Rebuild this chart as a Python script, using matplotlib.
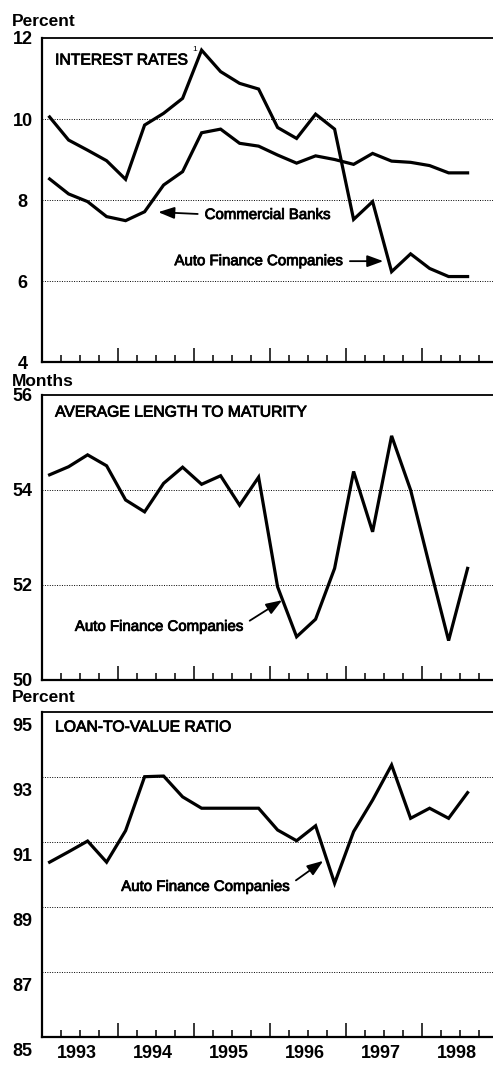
import numpy as np
import pandas as pd
import matplotlib
matplotlib.use("Agg")
from matplotlib import pyplot as plt
from matplotlib import patheffects as pe
from matplotlib.ticker import FixedLocator, NullFormatter
from matplotlib.transforms import ScaledTranslation

# quarterly observations, 1993Q1 - 1998Q3
quarters = pd.period_range("1993Q1", "1998Q3", freq="Q")

# interest rates, percent
auto_rate = [10.05, 9.48, 9.23, 8.97, 8.51, 9.85, 10.14, 10.51, 11.70, 11.17, 10.88, 10.74,
             9.79, 9.52, 10.12, 9.75, 7.52, 7.96, 6.23, 6.67, 6.31, 6.11, 6.11]
bank_rate = [8.52, 8.15, 7.96, 7.59, 7.49, 7.71, 8.37, 8.70, 9.66, 9.75, 9.40, 9.33,
             9.11, 8.91, 9.09, 9.00, 8.88, 9.15, 8.96, 8.93, 8.85, 8.67, 8.67]
# average length to maturity, months
auto_maturity = [54.32, 54.49, 54.74, 54.51, 53.79, 53.54, 54.14, 54.48, 54.12, 54.30, 53.68, 54.27,
                 51.96, 50.91, 51.28, 52.35, 54.39, 53.12, 55.14, 54.00, 52.40, 50.83, 52.35]
# loan-to-value ratio, percent
auto_ltv = [90.37, 90.69, 91.02, 90.37, 91.34, 93.00, 93.02, 92.38, 92.03, 92.03, 92.03, 92.03,
            91.36, 91.03, 91.49, 89.72, 91.31, 92.28, 93.36, 91.72, 92.03, 91.72, 92.51]

years = [1993, 1994, 1995, 1996, 1997, 1998]

x = np.array([q.year + (q.quarter - 1) / 4 + 0.1 for q in quarters])

plt.rcParams["font.family"] = ["Liberation Sans", "DejaVu Sans"]

fig = plt.figure(figsize=(4.93, 10.65), dpi=100)

W = 493.0
H = 1065.0


def make_ax(top_px, bot_px):
    return fig.add_axes([42 / W, 1 - bot_px / H, 1 - 42 / W, (bot_px - top_px) / H])


ax1 = make_ax(38, 362)
ax2 = make_ax(395, 680)
ax3 = make_ax(711.7, 1036.7)

xmin, xmax = 1993.0, 1993.0 + 451 / 76.0


def style(ax, ylim, yticks, grid):
    ax.set_xlim(xmin, xmax)
    ax.set_ylim(*ylim)
    ax.spines["right"].set_visible(False)
    for s in ("left", "bottom"):
        ax.spines[s].set_linewidth(1.6)
    ax.spines["top"].set_linewidth(1.3)
    ax.set_yticks(yticks)
    ax.set_yticklabels([str(v) for v in yticks], fontweight="bold", fontsize=13,
                       ha="center")
    ax.tick_params(axis="y", length=0, pad=14)
    ax.xaxis.set_major_locator(FixedLocator(years[1:]))
    ax.xaxis.set_major_formatter(NullFormatter())
    qt = [y + q / 4 for y in years for q in (1, 2, 3)]
    ax.set_xticks(qt, minor=True)
    ax.tick_params(axis="x", which="major", direction="in", length=10, width=1.1)
    ax.tick_params(axis="x", which="minor", direction="in", length=5, width=1.1)
    for g in grid:
        ax.axhline(g, color="black", lw=0.7, ls=(0, (1, 1.5)), zorder=1)


style(ax1, (4, 12), [4, 6, 8, 10, 12], [6, 8, 10])
style(ax2, (50, 56), [50, 52, 54, 56], [52, 54])
style(ax3, (85, 95), [85, 87, 89, 91, 93, 95], [87, 89, 91, 93])

# year labels under the bottom panel
for y in years:
    ax3.text(y + 0.46, -0.025, str(y), transform=ax3.get_xaxis_transform(),
             ha="center", va="top", fontsize=13, fontweight="bold")

# the bottom panel's labels sit a little below their grid lines
off = ScaledTranslation(0, -13 / 100, fig.dpi_scale_trans)
for lbl in ax3.get_yticklabels():
    lbl.set_transform(lbl.get_transform() + off)

lw = 2.3
ax1.plot(x, auto_rate, color="black", lw=lw, solid_joinstyle="miter", zorder=3)
ax1.plot(x, bank_rate, color="black", lw=lw, solid_joinstyle="miter", zorder=3)
ax2.plot(x, auto_maturity, color="black", lw=lw, solid_joinstyle="miter", zorder=3)
ax3.plot(x, auto_ltv, color="black", lw=lw, solid_joinstyle="miter", zorder=3)

heavy = [pe.withStroke(linewidth=0.6, foreground="black")]

# panel titles
ax1.text(0.029, 0.932, "INTEREST RATES", transform=ax1.transAxes, fontsize=11.3,
         va="center", ha="left", path_effects=heavy)
ax1.text(0.333, 0.963, "1", transform=ax1.transAxes, fontsize=6, va="center", ha="left")
ax2.text(0.029, 0.940, "AVERAGE LENGTH TO MATURITY", transform=ax2.transAxes,
         fontsize=11.3, va="center", ha="left", path_effects=heavy)
ax3.text(0.029, 0.953, "LOAN-TO-VALUE RATIO", transform=ax3.transAxes, fontsize=11.3,
         va="center", ha="left", path_effects=heavy)

# unit labels
fig.text(12 / W, 1 - 21 / H, "Percent", fontsize=12.5, fontweight="bold", va="center")
fig.text(12 / W, 1 - 381 / H, "Months", fontsize=12.5, fontweight="bold", va="center")
fig.text(12 / W, 1 - 697 / H, "Percent", fontsize=12.5, fontweight="bold", va="center")

arrow = dict(arrowstyle="-|>,head_length=0.9,head_width=0.33", color="black", lw=1.3,
             shrinkA=3, shrinkB=0)

ax1.annotate("Commercial Banks", xy=(1994.53, 7.70), xytext=(1995.14, 7.63),
             fontsize=10.8, ha="left", va="center", path_effects=heavy,
             arrowprops=dict(arrow, relpos=(0, 0.55)))
ax1.annotate("Auto Finance Companies", xy=(1997.49, 6.49), xytext=(1996.96, 6.49),
             fontsize=10.8, ha="right", va="center", path_effects=heavy,
             arrowprops=dict(arrow, relpos=(1, 0.5)))
ax2.annotate("Auto Finance Companies", xy=(1996.16, 51.68), xytext=(1995.65, 51.12),
             fontsize=10.8, ha="right", va="center", path_effects=heavy,
             arrowprops=dict(arrow, relpos=(1, 0.65)))
ax3.annotate("Auto Finance Companies", xy=(1996.70, 90.41), xytext=(1996.26, 89.61),
             fontsize=10.8, ha="right", va="center", path_effects=heavy,
             arrowprops=dict(arrow, relpos=(1, 0.65)))

fig.savefig("out.png", dpi=100)
